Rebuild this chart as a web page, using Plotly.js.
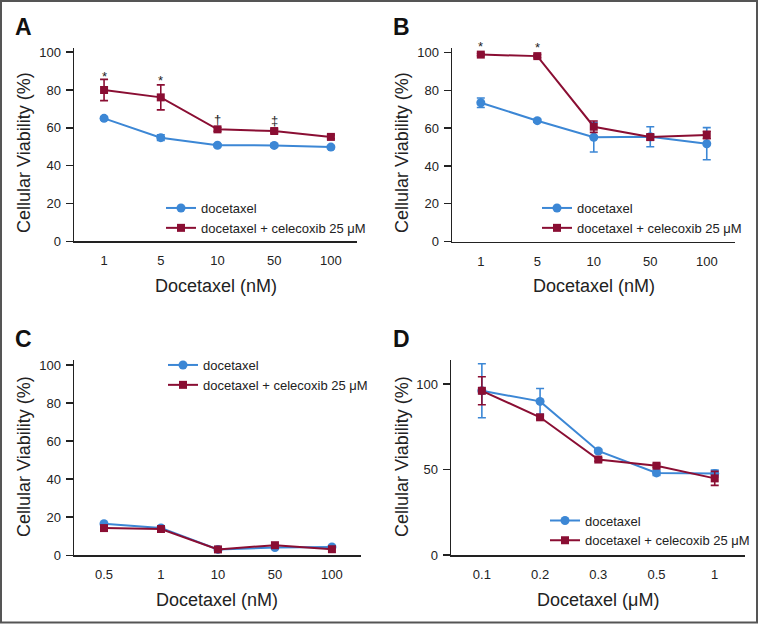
<!DOCTYPE html>
<html><head><meta charset="utf-8">
<script src="https://cdn.plot.ly/plotly-3.0.1.min.js"></script>
<style>html,body{margin:0;padding:0;background:#fff;}#chart{width:758px;height:624px;}</style>
</head><body><div id="chart"></div>
<script>
// ---- data ----
const seriesNames = ["docetaxel", "docetaxel + celecoxib 25 \u03bcM"];

const catsA = ["1", "5", "10", "50", "100"];
const docA = [65, 54.8, 50.8, 50.7, 49.8];
const docAErr = [0.8, 1.5, 0.8, 0.8, 0.8];
const comboA = [80, 76.1, 59.2, 58.3, 55.2];
const comboAErr = [5.6, 6.6, 1, 1, 1];
const sigA = ["*", "*", "\u2020", "\u2021", ""];

const catsB = ["1", "5", "10", "50", "100"];
const docB = [73.5, 64, 55.2, 55.5, 51.8];
const docBErr = [2.5, 0.8, 7.8, 5.3, 8.5];
const comboB = [99, 98.2, 60.8, 55.3, 56.4];
const comboBErr = [0.6, 0.8, 3, 1.5, 2];
const sigB = ["*", "*", "", "", ""];

const catsC = ["0.5", "1", "10", "50", "100"];
const docC = [16.6, 14.4, 3.1, 4.1, 4.4];
const comboC = [14.3, 13.8, 3.1, 5.3, 3.2];

const catsD = ["0.1", "0.2", "0.3", "0.5", "1"];
const docD = [96, 89.8, 60.8, 48, 47.6];
const docDErr = [15.8, 7.5, 1, 1.5, 2];
const comboD = [96, 80.5, 55.8, 52.2, 44.8];
const comboDErr = [8.2, 1, 1, 1, 4.1];

// ---- styling ----
const W = 758, H = 624;
const px = x => x / W;
const py = y => 1 - y / H;
const BLUE = "#3c87d5", RED = "#8a0e33";
// gap (px) between the top of the error bar and each significance mark
const sigGapA = [6.2, 7.2, 10.5, 11.2, 0];
const sigGapB = [10, 9.7, 0, 0, 0];

function pair(xa, ya, cats, d1, e1, d2, e2, leg) {
  const mk = (name, y, e, color, sym, size) => ({
    type: "scatter", mode: "lines+markers", name: name, x: cats, y: y,
    xaxis: xa, yaxis: ya, legend: leg, showlegend: true,
    line: {color: color, width: 2},
    marker: {color: color, symbol: sym, size: size},
    error_y: e ? {type: "data", array: e, visible: true, color: color, thickness: 1.6, width: 4} : {visible: false},
    cliponaxis: false
  });
  return [mk(seriesNames[0], d1, e1, BLUE, "circle", 9), mk(seriesNames[1], d2, e2, RED, "square", 8)];
}

const data = [
  ...pair("x", "y", catsA, docA, docAErr, comboA, comboAErr, "legend"),
  ...pair("x2", "y2", catsB, docB, docBErr, comboB, comboBErr, "legend2"),
  ...pair("x3", "y3", catsC, docC, null, comboC, null, "legend3"),
  ...pair("x4", "y4", catsD, docD, docDErr, comboD, comboDErr, "legend4"),
];

const tickFont = {family: "Liberation Sans, Arial, sans-serif", size: 13, color: "#222"};
function xax(domain, range, anchor) {
  return {domain: domain, range: range, type: "category", anchor: anchor,
    showline: true, linecolor: "#222", linewidth: 1.5, ticks: "", showgrid: false,
    ticklabelstandoff: 7,
    zeroline: false, tickfont: tickFont, fixedrange: true};
}
function yax(domain, range, dtick, anchor) {
  return {domain: domain, range: range, anchor: anchor, dtick: dtick, tick0: 0,
    showline: true, linecolor: "#222", linewidth: 1.5, ticks: "outside", ticklen: 7,
    ticklabelstandoff: 2,
    tickcolor: "#222", tickwidth: 1.5, showgrid: false, zeroline: false,
    tickfont: tickFont, fixedrange: true};
}

const titleFont = {family: "Liberation Sans, Arial, sans-serif", size: 18, color: "#222"};
const letterFont = {family: "Liberation Sans, Arial, sans-serif", size: 23, color: "#111"};
function paperText(text, x, y, font, angle) {
  return {text: text, xref: "paper", yref: "paper", x: px(x), y: py(y),
    xanchor: "center", yanchor: "middle", showarrow: false, font: font, textangle: angle || 0};
}
function sigNotes(xa, ya, marks, vals, errs, gaps) {
  const out = [];
  marks.forEach((m, i) => {
    if (!m) return;
    out.push({text: m, xref: xa, yref: ya, x: i, y: vals[i] + errs[i],
      yanchor: "middle", yshift: gaps[i] - 3, showarrow: false,
      font: {family: "Liberation Sans, Arial, sans-serif", size: 13, color: "#222"}});
  });
  return out;
}

const annotations = [
  paperText("<b>A</b>", 23, 27, letterFont),
  paperText("<b>B</b>", 401, 27, letterFont),
  paperText("<b>C</b>", 23, 339, letterFont),
  paperText("<b>D</b>", 401, 339, letterFont),
  paperText("Docetaxel (nM)", 216, 286, titleFont),
  paperText("Docetaxel (nM)", 594, 286, titleFont),
  paperText("Docetaxel (nM)", 217, 600, titleFont),
  paperText("Docetaxel (\u03bcM)", 598, 600, titleFont),
  paperText("Cellular Viability (%)", 24, 153, titleFont, -90),
  paperText("Cellular Viability (%)", 402, 153, titleFont, -90),
  paperText("Cellular Viability (%)", 24, 457, titleFont, -90),
  paperText("Cellular Viability (%)", 402, 457, titleFont, -90),
  ...sigNotes("x", "y", sigA, comboA, comboAErr, sigGapA),
  ...sigNotes("x2", "y2", sigB, comboB, comboBErr, sigGapB),
];

const legFont = {family: "Liberation Sans, Arial, sans-serif", size: 13, color: "#222"};
function leg(x, y) {
  return {x: px(x), y: py(y), xanchor: "left", yanchor: "top", bgcolor: "rgba(0,0,0,0)",
    font: legFont, borderwidth: 0, tracegroupgap: 0, itemclick: false};
}

const layout = {
  width: W, height: H, margin: {l: 0, r: 0, t: 0, b: 0},
  paper_bgcolor: "#fff", plot_bgcolor: "rgba(0,0,0,0)",
  xaxis: xax([px(74), px(357)], [-0.53, 4.46], "y"),
  yaxis: yax([py(241.3), py(48)], [0, 102.2], 20, "x"),
  xaxis2: xax([px(452), px(735)], [-0.51, 4.5], "y2"),
  yaxis2: yax([py(241.5), py(48)], [0, 102.5], 20, "x2"),
  xaxis3: xax([px(74), px(361)], [-0.526, 4.51], "y3"),
  yaxis3: yax([py(555.3), py(360)], [0, 102.6], 20, "x3"),
  xaxis4: xax([px(451), px(745)], [-0.53, 4.52], "y4"),
  yaxis4: yax([py(555), py(360)], [0, 114], 50, "x4"),
  legend: leg(161, 193),
  legend2: leg(537, 193),
  legend3: leg(163, 350),
  legend4: leg(545, 505.5),
  annotations: annotations,
  shapes: [{type: "rect", xref: "paper", yref: "paper", x0: px(1), x1: px(757), y0: py(622.5), y1: py(1),
    line: {color: "#555", width: 2}, fillcolor: "rgba(0,0,0,0)"}],
};

Plotly.newPlot("chart", data, layout, {displayModeBar: false, staticPlot: true});
</script>
</body></html>
